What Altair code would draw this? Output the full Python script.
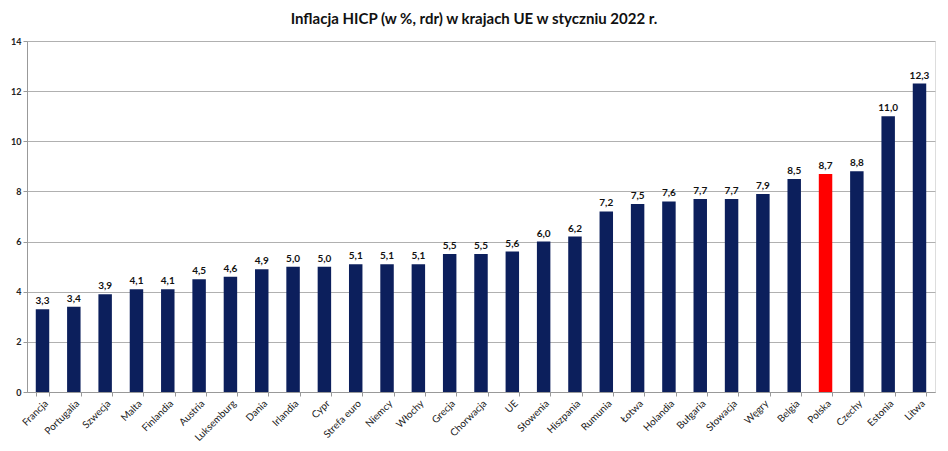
import altair as alt
import pandas as pd

countries = ["Francja", "Portugalia", "Szwecja", "Malta", "Finlandia", "Austria",
             "Luksemburg", "Dania", "Irlandia", "Cypr", "Strefa euro", "Niemcy",
             "Włochy", "Grecja", "Chorwacja", "UE", "Słowenia", "Hiszpania",
             "Rumunia", "Łotwa", "Holandia", "Bułgaria", "Słowacja", "Węgry",
             "Belgia", "Polska", "Czechy", "Estonia", "Litwa"]
values = [3.3, 3.4, 3.9, 4.1, 4.1, 4.5, 4.6, 4.9, 5.0, 5.0, 5.1, 5.1, 5.1, 5.5,
          5.5, 5.6, 6.0, 6.2, 7.2, 7.5, 7.6, 7.7, 7.7, 7.9, 8.5, 8.7, 8.8, 11.0, 12.3]
highlight = ["Polska"]

df = pd.DataFrame({"kraj": countries, "wartosc": values})
df["grupa"] = ["hl" if c in highlight else "base" for c in countries]

FONT = "Lato"

x = alt.X("kraj:N", sort=countries, title=None,
          scale=alt.Scale(paddingInner=0.57, paddingOuter=0.28),
          axis=alt.Axis(labelAngle=-45, labelFontSize=10, labelColor="#222222",
                        labelFont=FONT, tickBand="extent", tickColor="#999999",
                        tickSize=4, domainColor="#999999", labelPadding=2))
y = alt.Y("wartosc:Q", title=None,
          scale=alt.Scale(domain=[0, 14], nice=False),
          axis=alt.Axis(values=list(range(0, 15, 2)), labelFontSize=9,
                        labelFontWeight="bold", labelColor="#222222", labelFont=FONT,
                        gridColor="#b0b0b0", domainColor="#999999",
                        tickColor="#999999", tickSize=4, labelPadding=2))

bars = alt.Chart(df).mark_bar().encode(
    x=x, y=y,
    color=alt.Color("grupa:N", scale=alt.Scale(domain=["base", "hl"],
                                               range=["#0c1f5c", "#ff0000"]),
                    legend=None),
)

labels = alt.Chart(df).transform_calculate(
    lab="replace(format(datum.wartosc, '.1f'), '.', ',')"
).mark_text(dy=-8, fontSize=10, fontWeight="bold", font=FONT, color="#111111").encode(
    x=alt.X("kraj:N", sort=countries), y="wartosc:Q", text="lab:N"
)

chart = (bars + labels).properties(
    width=908, height=351,
    title=alt.TitleParams("Inflacja HICP (w %, rdr) w krajach UE w styczniu 2022 r.",
                          fontSize=15, fontWeight="bold", font=FONT, color="#111111",
                          anchor="middle", offset=10, dx=-7),
    autosize=alt.AutoSizeParams(type="none"),
    padding={"left": 19, "top": 33, "right": 5, "bottom": 50},
).configure_view(stroke=None).configure(background="white")

chart.save("out.html", embed_options={"renderer": "svg", "actions": False})
